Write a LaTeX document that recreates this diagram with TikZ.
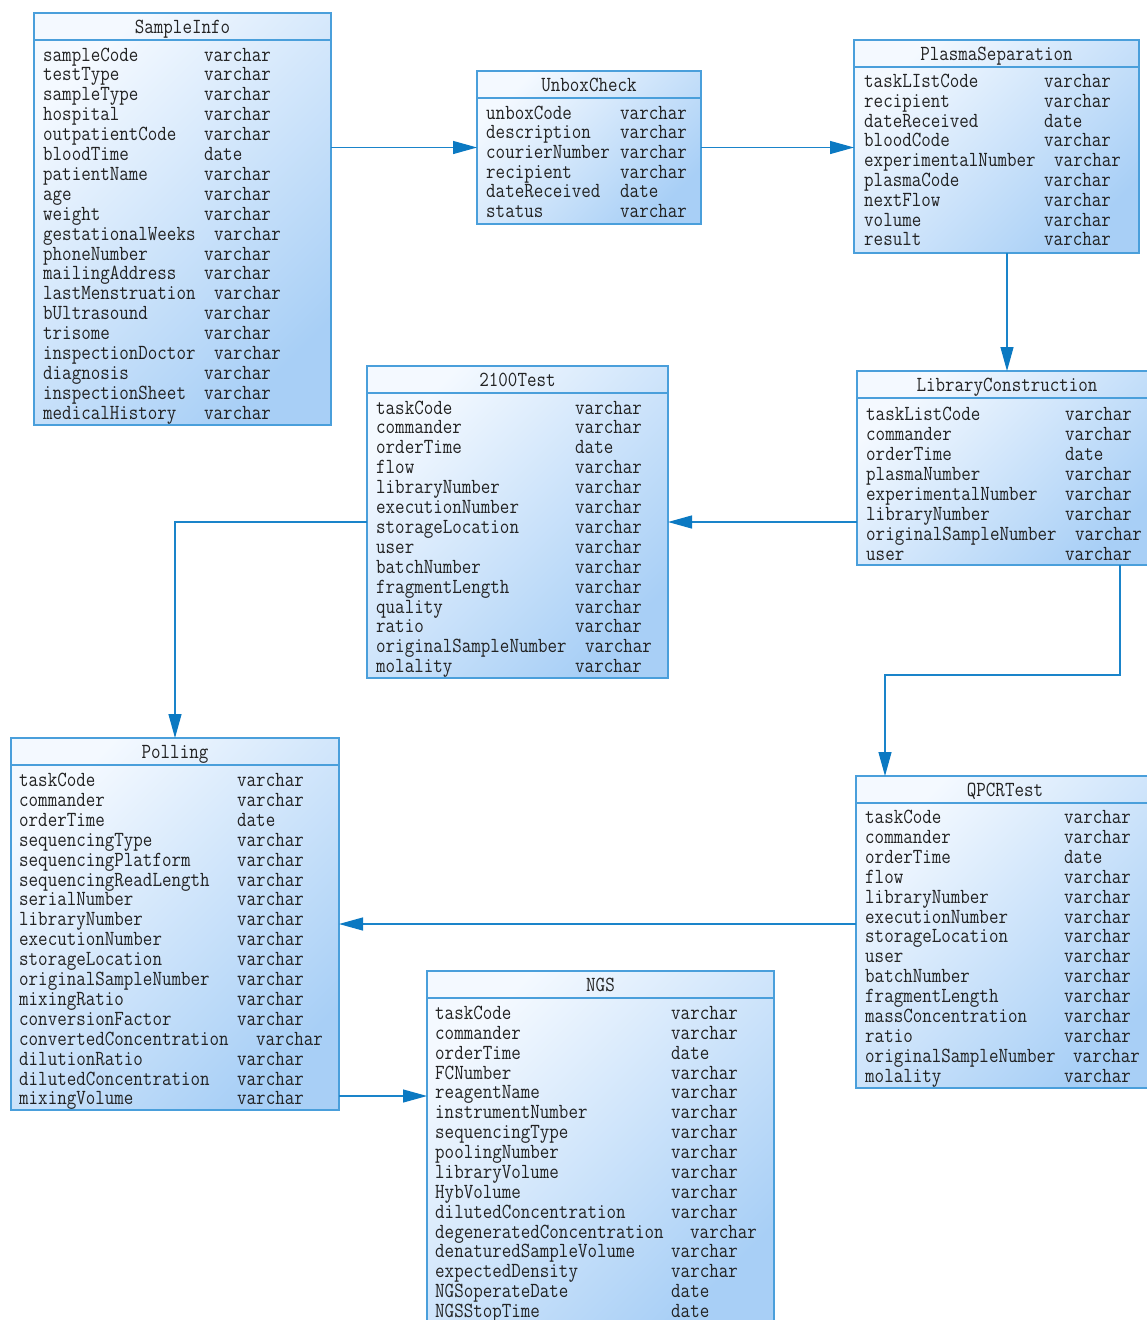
\documentclass[tikz,border=0pt]{standalone}
\usepackage{fontspec}
\newfontfamily\tabfam{Latin Modern Mono}[FakeStretch=0.86]
\usetikzlibrary{arrows.meta,calc}
\definecolor{boxline}{HTML}{4A9FDB}
\definecolor{lite}{HTML}{F4F9FF}
\definecolor{deep}{HTML}{A8CFF6}
\definecolor{connc}{HTML}{1A84CA}
\definecolor{tipc}{HTML}{0B79C2}
\definecolor{ink}{HTML}{222222}
\newcommand\tabfont{\tabfam\fontsize{21.5}{22}\selectfont}
\tikzset{
  tbl/.style={draw=boxline, line width=1.2pt, left color=lite, right color=deep,
              shading angle=45, inner sep=0pt, outer sep=0pt, anchor=north west},
  sepline/.style={draw=boxline, line width=1.2pt},
  txt/.style={anchor=base west, inner sep=0pt, font=\tabfont, text=ink},
  ttl/.style={anchor=base, inner sep=0pt, font=\tabfont, text=ink},
  conn/.style={draw=connc, line width=1.2pt,
               -{Triangle[length=24pt,width=13pt,fill=tipc,color=tipc]}}
}
% #1 name, #2 x, #3 y, #4 w, #5 h, #6 title
\newcommand\tbox[6]{%
  \node[tbl, minimum width=#4pt, minimum height=#5pt] (#1) at (#2,#3) {};
  \draw[sepline] ($(#1.north west)+(0,27)$) -- ($(#1.north east)+(0,27)$);
  \node[ttl] (#1-title) at ($(#1.north)+(0,20.5)$) {#6};
}
% #1 prefix, #2 name x, #3 first baseline, #4 spacing, #5 list
\newcommand\trows[5]{%
  \foreach \n/\t/\tx [count=\i from 0] in {#5} {
    \node[txt] (#1-n\i) at (#2, #3+#4*\i) {\n};
    \node[txt] (#1-t\i) at (\tx, #3+#4*\i) {\t};
  }
}
\begin{document}
\begin{tikzpicture}[x=1pt,y=-1pt]
\fill[white] (0,0) rectangle (1147,1320);
\useasboundingbox (0,0) rectangle (1147,1320);

% SampleInfo
\tbox{sample}{34}{13}{297}{412}{SampleInfo}
\trows{sample}{43}{61}{19.9}{sampleCode/varchar/204, testType/varchar/204,
 sampleType/varchar/204, hospital/varchar/204, outpatientCode/varchar/204,
 bloodTime/date/204, patientName/varchar/204, age/varchar/204, weight/varchar/204,
 gestationalWeeks/varchar/214, phoneNumber/varchar/204, mailingAddress/varchar/204,
 lastMenstruation/varchar/214, bUltrasound/varchar/204, trisome/varchar/204,
 inspectionDoctor/varchar/214, diagnosis/varchar/204, inspectionSheet/varchar/204,
 medicalHistory/varchar/204}

% UnboxCheck
\tbox{unbox}{477}{71}{224}{153}{UnboxCheck}
\trows{unbox}{486}{119}{19.7}{unboxCode/varchar/620, description/varchar/620,
 courierNumber/varchar/620, recipient/varchar/620, dateReceived/date/620,
 status/varchar/620}

% PlasmaSeparation
\tbox{plasma}{854}{40}{285}{213}{PlasmaSeparation}
\trows{plasma}{864}{87.5}{19.8}{taskLIstCode/varchar/1044, recipient/varchar/1044,
 dateReceived/date/1044, bloodCode/varchar/1044, experimentalNumber/varchar/1054,
 plasmaCode/varchar/1044, nextFlow/varchar/1044, volume/varchar/1044,
 result/varchar/1044}

% LibraryConstruction
\tbox{libcon}{857}{371}{300}{194}{LibraryConstruction}
\trows{libcon}{866}{420}{20}{taskListCode/varchar/1065, commander/varchar/1065,
 orderTime/date/1065, plasmaNumber/varchar/1065, experimentalNumber/varchar/1065,
 libraryNumber/varchar/1065, originalSampleNumber/varchar/1075, user/varchar/1065}

% 2100Test
\tbox{t2100}{367}{366}{301}{312}{2100Test}
\trows{t2100}{376}{414}{19.9}{taskCode/varchar/575, commander/varchar/575,
 orderTime/date/575, flow/varchar/575, libraryNumber/varchar/575,
 executionNumber/varchar/575, storageLocation/varchar/575, user/varchar/575,
 batchNumber/varchar/575, fragmentLength/varchar/575, quality/varchar/575,
 ratio/varchar/575, originalSampleNumber/varchar/585, molality/varchar/575}

% Polling
\tbox{polling}{11}{738}{328}{372}{Polling}
\trows{polling}{19}{786.5}{19.9}{taskCode/varchar/237, commander/varchar/237,
 orderTime/date/237, sequencingType/varchar/237, sequencingPlatform/varchar/237,
 sequencingReadLength/varchar/237, serialNumber/varchar/237,
 libraryNumber/varchar/237, executionNumber/varchar/237,
 storageLocation/varchar/237, originalSampleNumber/varchar/237,
 mixingRatio/varchar/237, conversionFactor/varchar/237,
 convertedConcentration/varchar/256, dilutionRatio/varchar/237,
 dilutedConcentration/varchar/237, mixingVolume/varchar/237}

% QPCRTest
\tbox{qpcr}{856}{776}{298}{312}{QPCRTest}
\trows{qpcr}{865}{823.5}{19.9}{taskCode/varchar/1064, commander/varchar/1064,
 orderTime/date/1064, flow/varchar/1064, libraryNumber/varchar/1064,
 executionNumber/varchar/1064, storageLocation/varchar/1064, user/varchar/1064,
 batchNumber/varchar/1064, fragmentLength/varchar/1064,
 massConcentration/varchar/1064, ratio/varchar/1064,
 originalSampleNumber/varchar/1073, molality/varchar/1064}

% NGS
\tbox{ngs}{427}{971}{347}{360}{NGS}
\trows{ngs}{435}{1019.5}{19.87}{taskCode/varchar/671, commander/varchar/671,
 orderTime/date/671, FCNumber/varchar/671, reagentName/varchar/671,
 instrumentNumber/varchar/671, sequencingType/varchar/671,
 poolingNumber/varchar/671, libraryVolume/varchar/671, HybVolume/varchar/671,
 dilutedConcentration/varchar/671, degeneratedConcentration/varchar/690,
 denaturedSampleVolume/varchar/671, expectedDensity/varchar/671,
 NGSoperateDate/date/671, NGSStopTime/date/671}

% connectors
\draw[conn] (sample.east |- unbox.west) -- (unbox.west);
\draw[conn] (unbox.east) -- (unbox.east -| plasma.west);
\draw[conn] (libcon.north |- plasma.south) -- (libcon.north);
\draw[conn] (libcon.west |- t2100.east) -- (t2100.east);
\draw[conn] (t2100.west) -| (polling.north);
\coordinate (lq) at ($(libcon.south west)+(263,0)$);
\coordinate (qt) at ($(qpcr.north west)+(29,0)$);
\draw[conn] (lq) -- ++(0,110) -| (qt);
\draw[conn] (polling.east -| qpcr.west) -- (polling.east);
\coordinate (pn) at ($(polling.south east)+(0,-14)$);
\draw[conn] (pn) -- (pn -| ngs.west);
\end{tikzpicture}
\end{document}
